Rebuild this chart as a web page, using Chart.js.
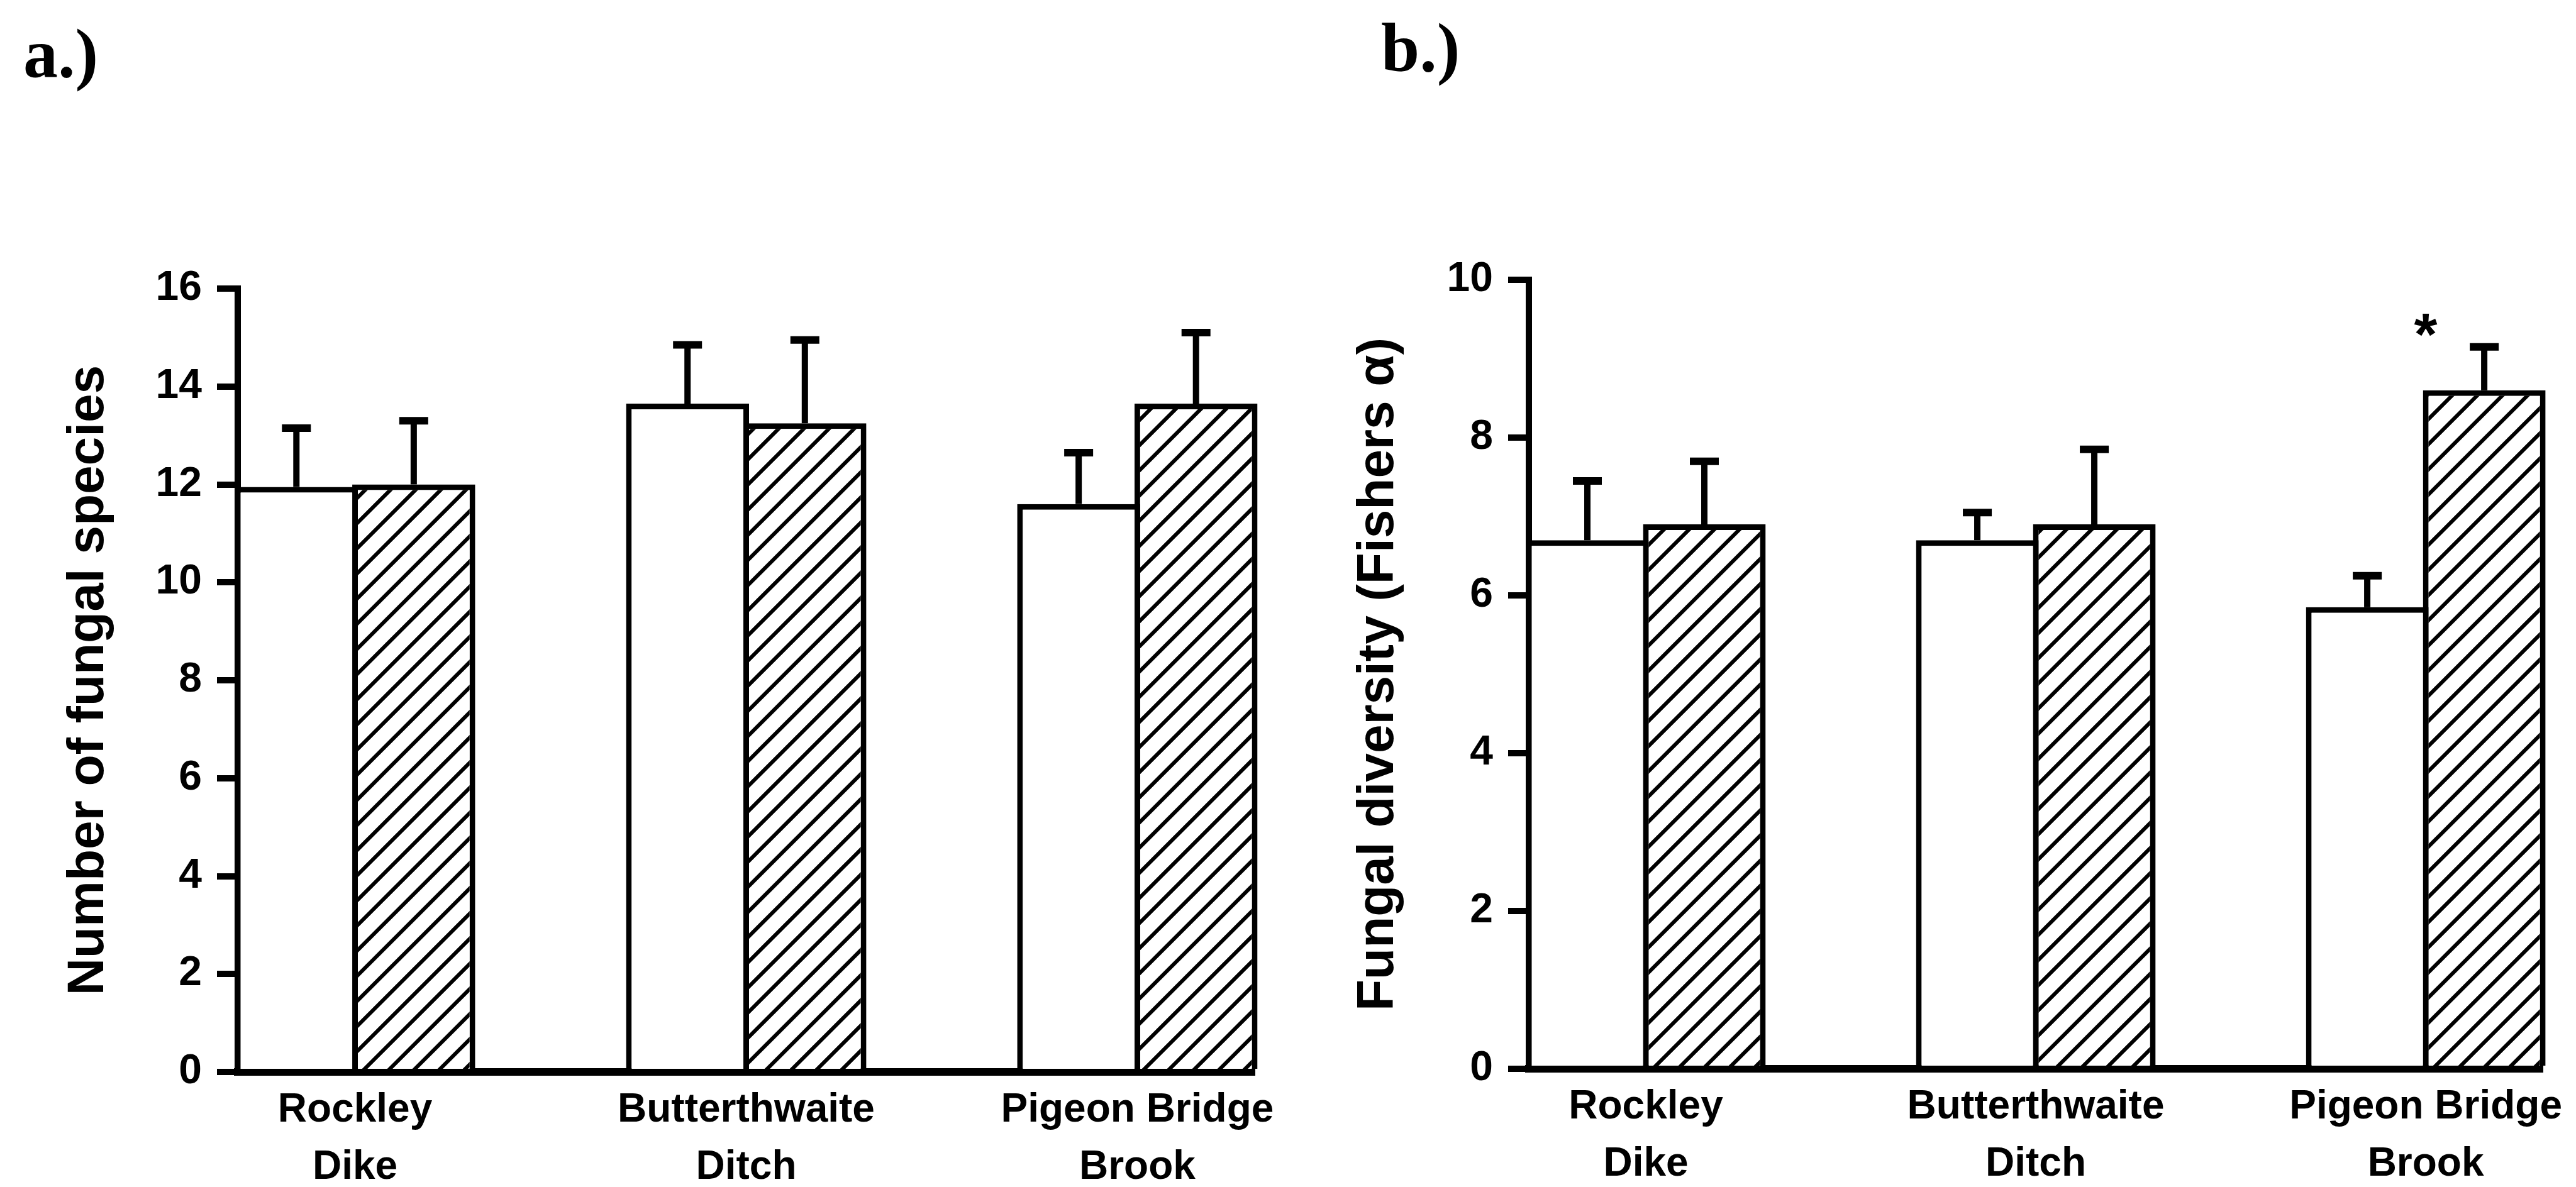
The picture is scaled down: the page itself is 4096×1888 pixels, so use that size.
<!DOCTYPE html>
<html>
<head>
<meta charset="utf-8">
<script src="https://cdn.jsdelivr.net/npm/chart.js@4.4.1/dist/chart.umd.min.js"></script>
<style>
  html, body { margin: 0; padding: 0; background: #fff; }
  body { width: 4096px; height: 1888px; position: relative; overflow: hidden; }
  .panel { position: absolute; top: 0; width: 2048px; height: 1888px; }
  .panel canvas { display: block; }
  .tag { position: absolute; font-family: 'Liberation Serif', 'Times New Roman', serif; font-weight: bold; font-size: 110px; line-height: 1; color: #000; }
</style>
</head>
<body>
<div class="tag" style="left:37px; top:30px">a.)</div>
<div class="tag" style="left:2196px; top:21px">b.)</div>
<div class="panel" style="left:0"><canvas id="chart-species" width="2048" height="1888"></canvas></div>
<div class="panel" style="left:2048px"><canvas id="chart-diversity" width="2048" height="1888"></canvas></div>
<script>
// sites along the x axis (two-line labels) and their positions
const SITES = [['Rockley', 'Dike'], ['Butterthwaite', 'Ditch'], ['Pigeon Bridge', 'Brook']];
const SITE_POS = [1, 2, 3];

// a.) number of fungal species, open vs hatched bars, with upper error
const speciesOpen = [11.95, 13.65, 11.6];
const speciesOpenErr = [1.2, 1.2, 1.05];
const speciesHatched = [12.0, 13.25, 13.65];
const speciesHatchedErr = [1.3, 1.7, 1.45];
const speciesTicks = [0, 16, 2]; // min, max, step

// b.) fungal diversity (Fishers alpha)
const diversityOpen = [6.7, 6.7, 5.85];
const diversityOpenErr = [0.75, 0.35, 0.4];
const diversityHatched = [6.9, 6.9, 8.6];
const diversityHatchedErr = [0.8, 0.95, 0.55];
const diversityTicks = [0, 10, 2];
// significance mark: site position, value
const diversityStar = [3, 9.47];

Chart.defaults.font.family = "'Liberation Sans', Arial, Helvetica, sans-serif";
Chart.defaults.font.weight = 'bold';
Chart.defaults.color = '#000';

const HALF = 0.3;  // one bar width, in site units
const EDGE = 9;    // bar outline width
// widen bars by one outline so neighbouring outlines land on the same pixels
const BAR_PCT = 1 + EDGE / 186;

function makeHatch() {
  const c = document.createElement('canvas');
  c.width = 40; c.height = 40;
  const g = c.getContext('2d');
  g.fillStyle = '#fff';
  g.fillRect(0, 0, 40, 40);
  g.strokeStyle = '#000';
  g.lineWidth = 6;
  g.beginPath();
  g.moveTo(-10, 50); g.lineTo(50, -10);
  g.moveTo(-30, 30); g.lineTo(30, -30);
  g.moveTo(10, 70); g.lineTo(70, 10);
  g.stroke();
  return g.createPattern(c, 'repeat');
}
const hatch = makeHatch();

// upward-only error bars with a cap
const errorBars = {
  id: 'errorBars',
  afterDatasetsDraw(chart) {
    const { ctx } = chart;
    const y = chart.scales.y;
    ctx.save();
    ctx.strokeStyle = '#000';
    chart.data.datasets.forEach((ds, di) => {
      if (!ds.errors) return;
      chart.getDatasetMeta(di).data.forEach((bar, i) => {
        const top = y.getPixelForValue(ds.data[i].y + ds.errors[i]);
        ctx.lineWidth = 10;
        ctx.beginPath(); ctx.moveTo(bar.x, bar.y); ctx.lineTo(bar.x, top); ctx.stroke();
        ctx.lineWidth = 12;
        ctx.beginPath(); ctx.moveTo(bar.x - 23, top); ctx.lineTo(bar.x + 23, top); ctx.stroke();
      });
    });
    ctx.restore();
  }
};

// text marks (e.g. *) placed in data coordinates
const marks = {
  id: 'marks',
  afterDatasetsDraw(chart, args, opts) {
    if (!opts.items || !opts.items.length) return;
    const { ctx } = chart;
    const { x, y } = chart.scales;
    ctx.save();
    ctx.fillStyle = '#000';
    ctx.font = "bold 95px 'Liberation Sans', Arial, sans-serif";
    ctx.textAlign = 'center';
    ctx.textBaseline = 'alphabetic';
    opts.items.forEach(m => {
      ctx.fillText(m.text, x.getPixelForValue(m.x), y.getPixelForValue(m.y) + 52);
    });
    ctx.restore();
  }
};

function buildPanel(id, cfg) {
  const toPoints = vals => SITE_POS.map((x, i) => ({ x, y: vals[i] }));
  const outline = { left: EDGE, top: EDGE, right: EDGE, bottom: 0 };
  return new Chart(document.getElementById(id), {
    type: 'bar',
    data: {
      datasets: [
        {
          label: 'open', data: toPoints(cfg.open), errors: cfg.openErr,
          backgroundColor: '#fff', borderColor: '#000',
          borderWidth: outline, borderSkipped: false, clip: false,
          categoryPercentage: 2 * HALF, barPercentage: BAR_PCT
        },
        {
          label: 'hatched', data: toPoints(cfg.hatched), errors: cfg.hatchedErr,
          backgroundColor: hatch, borderColor: '#000',
          borderWidth: outline, borderSkipped: false, clip: false,
          categoryPercentage: 2 * HALF, barPercentage: BAR_PCT
        }
      ]
    },
    options: {
      responsive: false, animation: false, devicePixelRatio: 1,
      layout: { padding: { left: 0, right: cfg.padRight, top: cfg.padTop, bottom: 0 } },
      plugins: {
        legend: { display: false },
        tooltip: { enabled: false },
        marks: { items: cfg.marks || [] }
      },
      scales: {
        x: {
          type: 'linear', offset: false, bounds: 'data',
          min: SITE_POS[0] - HALF, max: SITE_POS[SITE_POS.length - 1] + HALF,
          afterBuildTicks: s => { s.ticks = SITE_POS.map(v => ({ value: v })); },
          afterFit: s => { s.height = cfg.xHeight; },
          grid: { display: true, drawOnChartArea: false, drawTicks: false, offset: false },
          border: { display: true, color: '#000', width: 12 },
          ticks: {
            autoSkip: false, maxRotation: 0, minRotation: 0, padding: 16,
            font: { size: 64, weight: 'bold', lineHeight: 1.42 },
            callback: v => SITES[v - 1]
          }
        },
        y: {
          min: cfg.ticks[0], max: cfg.ticks[1],
          afterFit: s => { s.width = cfg.yWidth; },
          grid: { drawOnChartArea: false, drawTicks: true, tickLength: 33, lineWidth: 10, color: '#000' },
          border: { display: true, color: '#000', width: 10 },
          ticks: { stepSize: cfg.ticks[2], padding: 24, font: { size: 66, weight: 'bold' } },
          title: {
            display: true, text: cfg.title, color: '#000',
            font: { size: 82, weight: 'bold', lineHeight: 1 },
            padding: { top: cfg.titlePad, bottom: 0 }
          }
        }
      }
    },
    plugins: [errorBars, marks]
  });
}

buildPanel('chart-species', {
  open: speciesOpen, openErr: speciesOpenErr,
  hatched: speciesHatched, hatchedErr: speciesHatchedErr,
  ticks: speciesTicks, title: 'Number of fungal species',
  yWidth: 378, xHeight: 183, padTop: 459, padRight: 53, titlePad: 100
});

buildPanel('chart-diversity', {
  open: diversityOpen, openErr: diversityOpenErr,
  hatched: diversityHatched, hatchedErr: diversityHatchedErr,
  ticks: diversityTicks, title: 'Fungal diversity (Fishers \u03b1)',
  yWidth: 383, xHeight: 188, padTop: 445, padRight: 52, titlePad: 103,
  marks: [{ x: diversityStar[0], y: diversityStar[1], text: '*' }]
});
</script>
</body>
</html>
